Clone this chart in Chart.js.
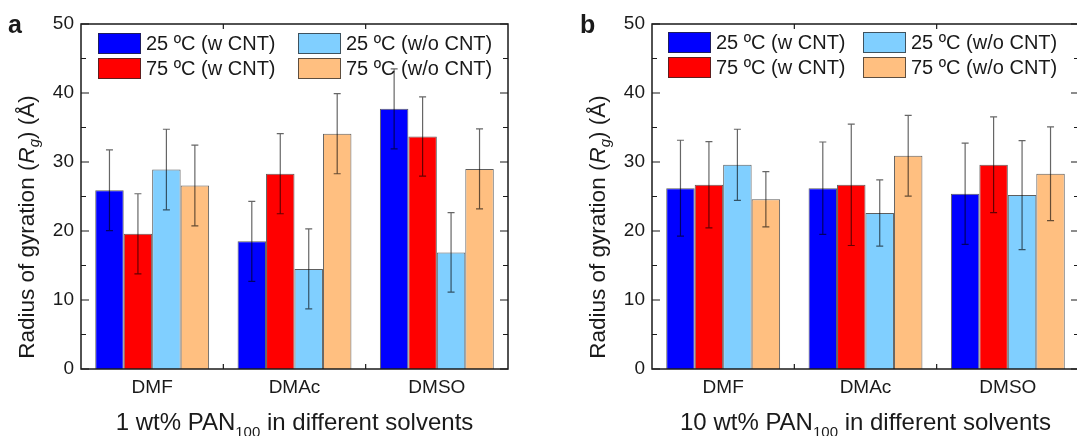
<!DOCTYPE html>
<html>
<head>
<meta charset="utf-8">
<script src="https://cdn.jsdelivr.net/npm/chart.js@4/dist/chart.umd.min.js"></script>
<style>
  html, body { margin: 0; padding: 0; background: #fff; overflow: hidden; width: 1077px; height: 436px; }
  canvas { position: absolute; top: 0; }
  #chartA { left: 0; }
  #chartB { left: 538px; }
</style>
</head>
<body>
<canvas id="chartA" width="538" height="436"></canvas>
<canvas id="chartB" width="571" height="436"></canvas>
<script>
const solvents = ["DMF", "DMAc", "DMSO"];
const seriesLabels = ["25 ºC (w CNT)", "75 ºC (w CNT)", "25 ºC (w/o CNT)", "75 ºC (w/o CNT)"];
const seriesColors = ["#0000FF", "#FF0000", "#80CFFF", "#FFBF80"];
const yTicks = [0, 10, 20, 30, 40, 50];

// panel a : 1 wt% PAN100
const a25w = [25.9, 18.5, 37.7];
const a25wErr = [5.85, 5.8, 5.8];
const a75w = [19.6, 28.3, 33.7];
const a75wErr = [5.8, 5.8, 5.75];
const a25wo = [28.9, 14.5, 16.9];
const a25woErr = [5.85, 5.8, 5.75];
const a75wo = [26.6, 34.1, 29.0];
const a75woErr = [5.85, 5.8, 5.8];

// panel b : 10 wt% PAN100
const b25w = [26.2, 26.2, 25.4];
const b25wErr = [6.95, 6.7, 7.35];
const b75w = [26.7, 26.7, 29.6];
const b75wErr = [6.25, 8.8, 6.95];
const b25wo = [29.6, 22.6, 25.2];
const b25woErr = [5.15, 4.8, 7.9];
const b75wo = [24.6, 30.9, 28.3];
const b75woErr = [4.0, 5.85, 6.8];

const FONT = "'Liberation Sans', Arial, sans-serif";
const INK = "#1a1a1a";

function buildDatasets(values, errors) {
  return values.map((data, i) => ({
    label: seriesLabels[i],
    data,
    errors: errors[i],
    backgroundColor: seriesColors[i],
    borderColor: "rgba(40,40,40,0.75)",
    borderWidth: 1,
    categoryPercentage: 0.8,
    barPercentage: 1.0
  }));
}

const errorBars = {
  id: "errorBars",
  afterDatasetsDraw(chart) {
    const ctx = chart.ctx;
    const y = chart.scales.y;
    ctx.save();
    ctx.strokeStyle = "rgba(0,0,0,0.6)";
    ctx.lineWidth = 1.2;
    chart.data.datasets.forEach((ds, i) => {
      chart.getDatasetMeta(i).data.forEach((bar, j) => {
        const top = y.getPixelForValue(ds.data[j] + ds.errors[j]);
        const bottom = y.getPixelForValue(ds.data[j] - ds.errors[j]);
        ctx.beginPath();
        ctx.moveTo(bar.x, top);
        ctx.lineTo(bar.x, bottom);
        ctx.moveTo(bar.x - 3.5, top);
        ctx.lineTo(bar.x + 3.5, top);
        ctx.moveTo(bar.x - 3.5, bottom);
        ctx.lineTo(bar.x + 3.5, bottom);
        ctx.stroke();
      });
    });
    ctx.restore();
  }
};

const frame = {
  id: "frame",
  afterDraw(chart) {
    const { ctx, chartArea: a, scales } = chart;
    const step = yTicks[1] - yTicks[0];
    ctx.save();
    ctx.strokeStyle = INK;
    ctx.lineWidth = 1.5;
    ctx.strokeRect(a.left, a.top, a.right - a.left, a.bottom - a.top);

    ctx.lineWidth = 1.2;
    ctx.beginPath();
    for (let v = yTicks[0]; v <= yTicks[yTicks.length - 1]; v += step / 2) {
      const py = scales.y.getPixelForValue(v);
      const len = v % step === 0 ? 8 : 5;
      ctx.moveTo(a.left, py);
      ctx.lineTo(a.left + len, py);
      ctx.moveTo(a.right, py);
      ctx.lineTo(a.right - len, py);
    }
    for (let i = 1; i < solvents.length; i++) {
      const px = (scales.x.getPixelForValue(i - 1) + scales.x.getPixelForValue(i)) / 2;
      ctx.moveTo(px, a.bottom);
      ctx.lineTo(px, a.bottom - 5);
      ctx.moveTo(px, a.top);
      ctx.lineTo(px, a.top + 5);
    }
    ctx.stroke();
    ctx.restore();
  }
};

function makePanel(canvasId, opts) {

  const decorations = {
    id: "decorations",
    afterDraw(chart) {
      const { ctx, chartArea: a } = chart;
      ctx.save();
      ctx.fillStyle = INK;

      // panel letter
      ctx.font = "bold 25px " + FONT;
      ctx.textBaseline = "alphabetic";
      ctx.textAlign = "left";
      ctx.fillText(opts.letter, opts.letterX, 33);

      // legend, two columns
      ctx.font = "20px " + FONT;
      ctx.textBaseline = "middle";
      chart.data.datasets.forEach((ds, i) => {
        const col = Math.floor(i / 2);
        const row = i % 2;
        const bx = a.left + opts.legendCols[col];
        const by = opts.legendRows[row];
        ctx.fillStyle = ds.backgroundColor;
        ctx.fillRect(bx, by, 43, 21);
        ctx.strokeStyle = "rgba(40,40,40,0.75)";
        ctx.lineWidth = 1;
        ctx.strokeRect(bx + 0.5, by + 0.5, 42, 20);
        ctx.fillStyle = INK;
        ctx.fillText(ds.label, bx + 48, by + 11);
      });

      // x title with subscript
      const cx = (a.left + a.right) / 2;
      const parts = [
        { t: opts.titleStart, f: "24px " + FONT, dy: 0 },
        { t: "100", f: "15px " + FONT, dy: 7 },
        { t: " in different solvents", f: "24px " + FONT, dy: 0 }
      ];
      let total = 0;
      parts.forEach(p => { ctx.font = p.f; p.w = ctx.measureText(p.t).width; total += p.w; });
      let x = cx - total / 2;
      ctx.textBaseline = "alphabetic";
      parts.forEach(p => {
        ctx.font = p.f;
        ctx.fillText(p.t, x, 430 + p.dy);
        x += p.w;
      });

      // y title, rotated
      const yParts = [
        { t: "Radius of gyration (", f: "22.5px " + FONT, dy: 0 },
        { t: "R", f: "italic 22.5px " + FONT, dy: 0 },
        { t: "g", f: "italic 15px " + FONT, dy: 5 },
        { t: ") (Å)", f: "22.5px " + FONT, dy: 0 }
      ];
      total = 0;
      yParts.forEach(p => { ctx.font = p.f; p.w = ctx.measureText(p.t).width; total += p.w; });
      ctx.translate(a.left - 55, 227);
      ctx.rotate(-Math.PI / 2);
      x = -total / 2;
      yParts.forEach(p => {
        ctx.font = p.f;
        ctx.fillText(p.t, x, 8 + p.dy);
        x += p.w;
      });
      ctx.restore();
    }
  };

  return new Chart(document.getElementById(canvasId), {
    type: "bar",
    data: {
      labels: solvents,
      datasets: buildDatasets(opts.values, opts.errors)
    },
    options: {
      responsive: false,
      animation: false,
      devicePixelRatio: 1,
      layout: {
        padding: { left: 0, right: 30, top: 24, bottom: 0 }
      },
      plugins: {
        legend: { display: false },
        tooltip: { enabled: false }
      },
      scales: {
        x: {
          grid: { display: false, drawTicks: false },
          border: { display: false },
          ticks: {
            color: INK,
            padding: 7,
            font: { family: FONT, size: 19 }
          },
          afterFit(scale) { scale.height = 67; }
        },
        y: {
          min: yTicks[0],
          max: yTicks[yTicks.length - 1],
          grid: { display: false, drawTicks: false },
          border: { display: false },
          ticks: {
            stepSize: yTicks[1] - yTicks[0],
            color: INK,
            padding: 7,
            font: { family: FONT, size: 19 }
          },
          afterFit(scale) { scale.width = opts.axisWidth; }
        }
      }
    },
    plugins: [errorBars, frame, decorations]
  });
}

makePanel("chartA", {
  letter: "a",
  letterX: 8,
  axisWidth: 81,
  legendCols: [17, 217],
  legendRows: [33, 58],
  titleStart: "1 wt% PAN",
  values: [a25w, a75w, a25wo, a75wo],
  errors: [a25wErr, a75wErr, a25woErr, a75woErr]
});

makePanel("chartB", {
  letter: "b",
  letterX: 42,
  axisWidth: 114,
  legendCols: [16, 211],
  legendRows: [32, 57],
  titleStart: "10 wt% PAN",
  values: [b25w, b75w, b25wo, b75wo],
  errors: [b25wErr, b75wErr, b25woErr, b75woErr]
});
</script>
</body>
</html>
